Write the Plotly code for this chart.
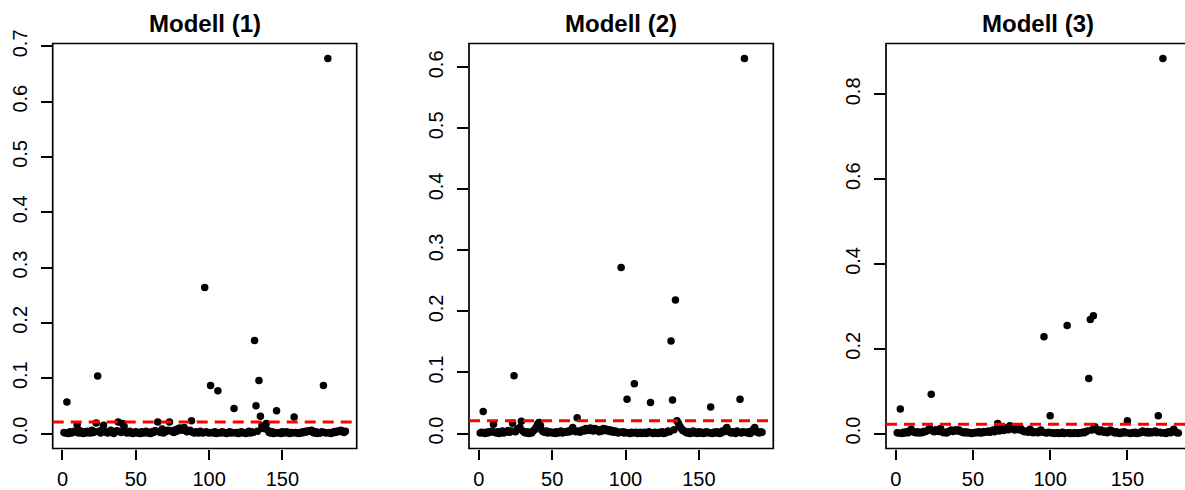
import plotly.graph_objects as go

# Cook's distance per observation for the three models
cook_m1 = [
    0.002, 0.001, 0.057, 0.000, 0.003, 0.001, 0.002, 0.004, 0.003, 0.016,
    0.001, 0.005, 0.002, 0.000, 0.003, 0.001, 0.004, 0.002, 0.001, 0.006,
    0.002, 0.003, 0.019, 0.104, 0.004, 0.001, 0.007, 0.015, 0.003, 0.002,
    0.001, 0.004, 0.006, 0.002, 0.000, 0.003, 0.005, 0.021, 0.004, 0.002,
    0.018, 0.013, 0.003, 0.001, 0.002, 0.004, 0.001, 0.000, 0.002, 0.003,
    0.001, 0.002, 0.000, 0.003, 0.001, 0.002, 0.004, 0.001, 0.002, 0.000,
    0.003, 0.002, 0.005, 0.004, 0.021, 0.003, 0.002, 0.008, 0.001, 0.003,
    0.004, 0.006, 0.021, 0.005, 0.003, 0.002, 0.007, 0.004, 0.009, 0.010,
    0.006, 0.008, 0.011, 0.005, 0.003, 0.004, 0.006, 0.023, 0.002, 0.001,
    0.003, 0.002, 0.001, 0.004, 0.002, 0.001, 0.264, 0.003, 0.002, 0.001,
    0.087, 0.002, 0.001, 0.003, 0.000, 0.0775, 0.002, 0.001, 0.003, 0.002,
    0.001, 0.000, 0.002, 0.003, 0.001, 0.002, 0.045, 0.001, 0.002, 0.000,
    0.001, 0.003, 0.002, 0.001, 0.000, 0.002, 0.004, 0.001, 0.003, 0.002,
    0.168, 0.050, 0.004, 0.0956, 0.031, 0.014, 0.009, 0.011, 0.018, 0.006,
    0.002, 0.001, 0.003, 0.000, 0.002, 0.041, 0.001, 0.002, 0.000, 0.003,
    0.001, 0.002, 0.003, 0.001, 0.000, 0.002, 0.001, 0.030, 0.002, 0.001,
    0.000, 0.002, 0.001, 0.003, 0.002, 0.004, 0.003, 0.005, 0.004, 0.006,
    0.002, 0.001, 0.003, 0.000, 0.002, 0.001, 0.003, 0.087, 0.002, 0.001,
    0.678, 0.002, 0.000, 0.001, 0.003, 0.002, 0.004, 0.003, 0.005, 0.006,
    0.003, 0.002, 0.004,
]

cook_m2 = [
    0.001, 0.002, 0.036, 0.000, 0.002, 0.001, 0.003, 0.002, 0.004, 0.015,
    0.002, 0.001, 0.003, 0.000, 0.002, 0.004, 0.001, 0.002, 0.003, 0.005,
    0.002, 0.004, 0.017, 0.0945, 0.003, 0.006, 0.008, 0.010, 0.020, 0.004,
    0.002, 0.001, 0.003, 0.000, 0.002, 0.001, 0.004, 0.006, 0.010, 0.015,
    0.018, 0.013, 0.005, 0.003, 0.002, 0.004, 0.001, 0.003, 0.002, 0.001,
    0.002, 0.000, 0.003, 0.001, 0.002, 0.004, 0.001, 0.002, 0.003, 0.002,
    0.004, 0.003, 0.006, 0.010, 0.005, 0.003, 0.026, 0.004, 0.002, 0.005,
    0.006, 0.004, 0.008, 0.007, 0.005, 0.009, 0.006, 0.004, 0.008, 0.007,
    0.005, 0.003, 0.006, 0.004, 0.008, 0.005, 0.007, 0.004, 0.006, 0.003,
    0.005, 0.002, 0.004, 0.003, 0.001, 0.002, 0.272, 0.003, 0.001, 0.002,
    0.056, 0.001, 0.000, 0.002, 0.001, 0.0814, 0.002, 0.000, 0.001, 0.002,
    0.000, 0.001, 0.002, 0.000, 0.001, 0.003, 0.051, 0.001, 0.000, 0.002,
    0.001, 0.000, 0.002, 0.001, 0.003, 0.000, 0.001, 0.002, 0.004, 0.003,
    0.1516, 0.055, 0.006, 0.2186, 0.021, 0.017, 0.012, 0.008, 0.005, 0.004,
    0.002, 0.001, 0.003, 0.000, 0.002, 0.004, 0.001, 0.002, 0.000, 0.003,
    0.001, 0.002, 0.000, 0.001, 0.003, 0.002, 0.001, 0.0435, 0.000, 0.002,
    0.001, 0.003, 0.002, 0.000, 0.001, 0.004, 0.003, 0.006, 0.010, 0.005,
    0.002, 0.001, 0.003, 0.002, 0.000, 0.004, 0.002, 0.056, 0.001, 0.003,
    0.6145, 0.002, 0.001, 0.003, 0.000, 0.004, 0.006, 0.010, 0.003, 0.002,
    0.001, 0.003, 0.002,
]

cook_m3 = [
    0.002, 0.001, 0.058, 0.000, 0.003, 0.001, 0.004, 0.002, 0.006, 0.010,
    0.005, 0.003, 0.002, 0.004, 0.001, 0.003, 0.002, 0.005, 0.004, 0.006,
    0.008, 0.012, 0.0924, 0.006, 0.004, 0.009, 0.007, 0.005, 0.012, 0.004,
    0.002, 0.003, 0.001, 0.004, 0.006, 0.008, 0.005, 0.007, 0.009, 0.006,
    0.008, 0.005, 0.003, 0.002, 0.004, 0.001, 0.003, 0.002, 0.000, 0.002,
    0.001, 0.003, 0.002, 0.004, 0.001, 0.002, 0.005, 0.003, 0.004, 0.006,
    0.003, 0.005, 0.008, 0.004, 0.010, 0.0237, 0.006, 0.009, 0.012, 0.007,
    0.010, 0.014, 0.009, 0.018, 0.012, 0.015, 0.008, 0.011, 0.014, 0.009,
    0.012, 0.007, 0.005, 0.004, 0.006, 0.003, 0.010, 0.005, 0.002, 0.003,
    0.004, 0.002, 0.006, 0.008, 0.003, 0.228, 0.002, 0.001, 0.003, 0.042,
    0.001, 0.002, 0.000, 0.001, 0.002, 0.000, 0.001, 0.003, 0.000, 0.001,
    0.255, 0.002, 0.000, 0.001, 0.000, 0.002, 0.001, 0.000, 0.002, 0.001,
    0.003, 0.002, 0.004, 0.006, 0.1296, 0.2687, 0.008, 0.278, 0.016, 0.010,
    0.006, 0.004, 0.008, 0.005, 0.003, 0.006, 0.002, 0.004, 0.008, 0.006,
    0.003, 0.001, 0.004, 0.002, 0.000, 0.003, 0.001, 0.004, 0.002, 0.030,
    0.001, 0.000, 0.002, 0.001, 0.003, 0.000, 0.002, 0.001, 0.004, 0.006,
    0.003, 0.002, 0.005, 0.001, 0.004, 0.002, 0.003, 0.006, 0.002, 0.042,
    0.003, 0.001, 0.8846, 0.002, 0.000, 0.003, 0.004, 0.002, 0.005, 0.010,
    0.004, 0.002, 0.001,
]

titles = ["Modell (1)", "Modell (2)", "Modell (3)"]
series = [cook_m1, cook_m2, cook_m3]
x_ticks = [0, 50, 100, 150]
y_ticks = [
    [0.0, 0.1, 0.2, 0.3, 0.4, 0.5, 0.6, 0.7],
    [0.0, 0.1, 0.2, 0.3, 0.4, 0.5, 0.6],
    [0.0, 0.2, 0.4, 0.6, 0.8],
]

W, H = 1185, 490
FONT = "Arial, 'Liberation Sans', Arimo, sans-serif"

# plot boxes in pixels (left, right); the third box runs past the page edge
boxes_px = [(52.7, 356.7), (469.0, 773.3), (886.0, 1189.6)]
top_px, bottom_px = 43.5, 448.5
y_dom = [(H - bottom_px) / H, (H - top_px) / H]


def r_range(lo, hi):
    pad = 0.04 * (hi - lo)
    return [lo - pad, hi + pad]


fig = go.Figure()
shapes = []
annotations = []

for i, (vals, title) in enumerate(zip(series, titles)):
    n = len(vals)
    idx = list(range(1, n + 1))
    xa = "x" if i == 0 else f"x{i + 1}"
    ya = "y" if i == 0 else f"y{i + 1}"
    xkey = "xaxis" if i == 0 else f"xaxis{i + 1}"
    ykey = "yaxis" if i == 0 else f"yaxis{i + 1}"

    left, right = boxes_px[i]
    vis_right = min(right, W)
    xr = r_range(1, n)
    # visible portion of the x range when the box is cut at the page edge
    frac = (vis_right - left) / (right - left)
    xr_vis = [xr[0], xr[0] + (xr[1] - xr[0]) * frac]
    yr = r_range(min(vals), max(vals))

    fig.add_trace(go.Scatter(
        x=idx, y=vals, mode="markers", xaxis=xa, yaxis=ya,
        marker=dict(color="black", size=7.5, line=dict(width=0)),
        showlegend=False, hoverinfo="x+y",
    ))

    fig.layout[xkey] = dict(
        domain=[left / W, vis_right / W], range=xr_vis, anchor=ya,
        tickvals=x_ticks, ticktext=[str(t) for t in x_ticks],
        ticks="outside", ticklen=10, tickwidth=1.6, tickcolor="black",
        showline=False, showgrid=False, zeroline=False, automargin=False,
        tickfont=dict(family=FONT, size=20, color="black"),
        ticklabelstandoff=2,
    )
    fig.layout[ykey] = dict(
        domain=y_dom, range=yr, anchor=xa,
        tickvals=y_ticks[i], ticktext=[f"{t:.1f}" for t in y_ticks[i]],
        ticks="outside", ticklen=11, tickwidth=1.6, tickcolor="black",
        tickangle=-90,
        showline=False, showgrid=False, zeroline=False, automargin=False,
        tickfont=dict(family=FONT, size=20, color="black"),
        ticklabelstandoff=6,
    )

    # plot frame
    shapes.append(dict(
        type="rect", xref=f"{xa} domain", yref=f"{ya} domain",
        x0=0, x1=(right - left) / (vis_right - left), y0=0, y1=1,
        line=dict(color="black", width=1.7), fillcolor="rgba(0,0,0,0)",
        layer="above",
    ))
    # 4/n cut-off line
    shapes.append(dict(
        type="line", xref=f"{xa} domain", yref=ya,
        x0=0, x1=1, y0=4 / n, y1=4 / n,
        line=dict(color="#ff0000", width=3, dash="11px,7px"),
        layer="above",
    ))

    annotations.append(dict(
        text=f"<b>{title}</b>", xref="paper", yref="paper",
        x=(left + right) / 2 / W, y=1 - 23 / H,
        xanchor="center", yanchor="middle", showarrow=False,
        font=dict(family=FONT, size=24, color="black"),
    ))

fig.update_layout(
    width=W, height=H,
    margin=dict(l=0, r=0, t=0, b=0, pad=0, autoexpand=False),
    paper_bgcolor="white", plot_bgcolor="white",
    shapes=shapes, annotations=annotations,
    showlegend=False,
)

fig.write_html("out.html")
